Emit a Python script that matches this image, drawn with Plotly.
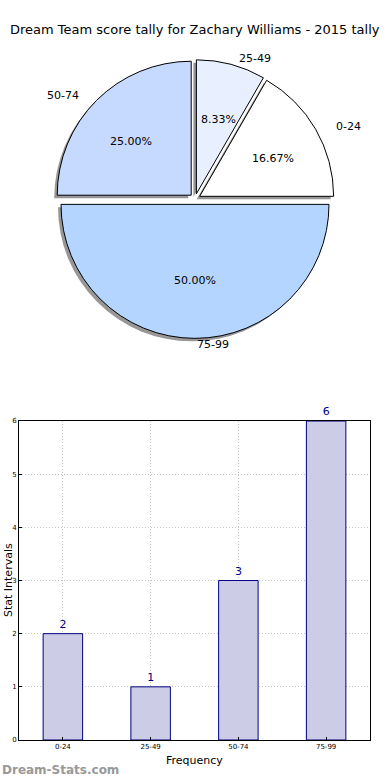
import math
import plotly.graph_objects as go

title_text = "Dream Team score tally for Zachary Williams - 2015 tally"
categories = ["0-24", "25-49", "50-74", "75-99"]
counts = [2, 1, 3, 6]
pie_colors = ["#ffffff", "#e8f0ff", "#c6d9ff", "#b3d5ff"]
shadow_colors = ["#8c8c8c"] * 4
y_ticks = [0, 1, 2, 3, 4, 5, 6]

W, H = 390, 780
font_family = "DejaVu Sans"

pull = 0.04
# first slice starts at 3 o'clock going counterclockwise (plotly puts the
# first ccw slice clockwise of the rotation line)
rotation = 90 - 360 * counts[0] / sum(counts)
# pie geometry (pixels, top-left origin)
cx, cy, r_pie = 195, 199, 134
box = 2 * r_pie * (1 + pull)
# label placement radii (matplotlib-style: labels at 1.1 r, pct at 0.6 r)
rx_lab, ry_lab = 141, 128


def dom_x(c, s):
    return [(c - s / 2) / W, (c + s / 2) / W]


def dom_y(c, s):
    yb = H - c
    return [(yb - s / 2) / H, (yb + s / 2) / H]


fig = go.Figure()

# shadow
fig.add_trace(go.Pie(
    labels=categories, values=counts, sort=False, direction="counterclockwise",
    rotation=rotation, pull=[pull] * 4,
    marker=dict(colors=shadow_colors, line=dict(width=0)),
    domain=dict(x=dom_x(cx - 3, box), y=dom_y(cy + 3, box)),
    textinfo="none", showlegend=False, hoverinfo="skip", opacity=0.9,
))

# main pie
fig.add_trace(go.Pie(
    labels=categories, values=counts, sort=False, direction="counterclockwise",
    rotation=rotation, pull=[pull] * 4,
    marker=dict(colors=pie_colors, line=dict(color="black", width=1)),
    domain=dict(x=dom_x(cx, box), y=dom_y(cy, box)),
    textinfo="none", showlegend=False,
))

fig.add_trace(go.Bar(
    x=categories, y=counts, width=0.45,
    marker=dict(color="#ccccE6", line=dict(color="#000080", width=1)),
    text=[str(v) for v in counts], textposition="outside",
    textfont=dict(family=font_family, size=11, color="#00008b"),
    cliponaxis=False, showlegend=False, xaxis="x", yaxis="y",
))

# pie labels and percentages, positioned from the slice angles
annotations = []
total = sum(counts)
start = 0.0
for lab, v in zip(categories, counts):
    frac = v / total
    mid = math.radians(360 * (start + frac / 2))
    start += frac
    c, s = math.cos(mid), math.sin(mid)
    # label outside
    lx = cx + (pull + 1.1) * rx_lab * c
    ly = cy - (pull + 1.1) * ry_lab * s
    annotations.append(dict(
        text=lab, x=lx / W, y=(H - ly) / H, xref="paper", yref="paper",
        xanchor="left" if c >= -1e-9 else "right", yanchor="middle",
        showarrow=False, font=dict(family=font_family, size=11, color="black")))
    # percentage inside
    px = cx + (pull + 0.6) * rx_lab * c
    py = cy - (pull + 0.6) * ry_lab * s
    annotations.append(dict(
        text=f"{frac * 100:.2f}%", x=px / W, y=(H - py) / H, xref="paper",
        yref="paper", xanchor="center", yanchor="middle", showarrow=False,
        font=dict(family=font_family, size=11, color="black")))

plot_left, plot_right, plot_top, plot_bottom = 19, 370, 421, 740

grid = dict(showgrid=True, gridcolor="#c4c4c4", griddash="1px,2px", gridwidth=1,
            showline=True, linecolor="black", linewidth=1, mirror=True,
            ticks="inside", ticklen=3, tickcolor="black",
            tickfont=dict(size=7, color="black"), zeroline=False,
            automargin=False)

annotations += [
    dict(text=title_text, x=0.5, y=1 - 30 / H, xref="paper", yref="paper",
         xanchor="center", yanchor="middle", showarrow=False,
         font=dict(family=font_family, size=13, color="black")),
    dict(text="Frequency", x=(plot_left + plot_right) / 2 / W, y=(H - 760) / H,
         xref="paper", yref="paper", xanchor="center", yanchor="middle",
         showarrow=False, font=dict(family=font_family, size=11, color="black")),
    dict(text="Stat Intervals", x=0, y=(H - (plot_top + plot_bottom) / 2) / H,
         xref="paper", yref="paper", xanchor="left", yanchor="middle",
         textangle=-90, showarrow=False,
         font=dict(family=font_family, size=11, color="black")),
    dict(text="<b>Dream-Stats.com</b>", x=0, y=10 / H, xref="paper", yref="paper",
         xanchor="left", yanchor="middle", showarrow=False,
         font=dict(family=font_family, size=12, color="#999999")),
]

fig.update_layout(
    width=W, height=H,
    margin=dict(l=0, r=0, t=0, b=0, autoexpand=False),
    paper_bgcolor="white", plot_bgcolor="white",
    font=dict(family=font_family, color="black"),
    xaxis=dict(
        domain=[plot_left / W, plot_right / W],
        type="category", range=[-0.5, 3.5], **grid,
    ),
    yaxis=dict(
        domain=[(H - plot_bottom) / H, (H - plot_top) / H],
        range=[0, 6], tickvals=y_ticks, **grid,
    ),
    annotations=annotations,
)

fig.write_html("out.html", config={"displayModeBar": False},
               post_script="document.body.style.margin='0';")
